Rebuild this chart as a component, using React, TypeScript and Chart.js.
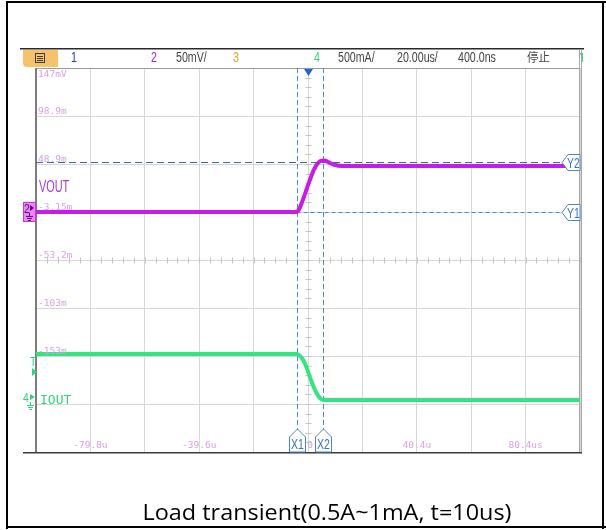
import React, { useEffect, useRef } from "react";
import { Chart, registerables } from "chart.js";

Chart.register(...registerables);

// ---- data ----
const voutTimeUs = [-100, -4.2, -3.4, -2.4, -1.0, 0.6, 2.2, 3.6, 4.7, 6.0, 7.6, 9.6, 12.5, 100];
const voutMv = [-3.15, -3.15, -1.0, 5.5, 16.5, 29.5, 41.0, 47.5, 50.0, 50.5, 48.5, 46.0, 44.8, 44.8];
const ioutTimeUs = [-100, -4.2, -3.0, -1.8, -0.4, 1.0, 2.6, 4.0, 5.0, 5.8, 100];
const ioutMa = [480, 480, 462, 420, 330, 215, 105, 35, 8, 1, 1];
const voltTickLabels = ["147mV", "98.9m", "48.9m", "-3.15m", "-53.2m", "-103m", "-153m"];
const voltTickDivs = [4, 3, 2, 1, 0, -1, -2];
const timeTickLabels = ["-79.8u", "-39.6u", "0", "40.4u", "80.4us"];
const timeTickUs = [-80, -40, 0, 40, 80];
const cursorXUs = [-4.2, 5.5];
const cursorXNames = ["X1", "X2"];
const cursorYMv = [-3.15, 48.9];
const cursorYNames = ["Y1", "Y2"];
const headerTexts = ["1", "2", "50mV/", "3", "4", "500mA/", "20.00us/", "400.0ns", "停止"];
const caption = "Load transient(0.5A~1mA, t=10us)";

const SANS = '"Liberation Sans", Arial, sans-serif';
const MONO = '"DejaVu Sans Mono", "Liberation Mono", monospace';

function narrowText(
  ctx: CanvasRenderingContext2D,
  text: string,
  x: number,
  y: number,
  font: string,
  sx: number,
  align: CanvasTextAlign = "left",
  baseline: CanvasTextBaseline = "alphabetic"
) {
  ctx.save();
  ctx.font = font;
  ctx.textAlign = align;
  ctx.textBaseline = baseline;
  ctx.translate(x, y);
  ctx.scale(sx, 1);
  ctx.fillText(text, 0, 0);
  ctx.restore();
}

function ground(ctx: CanvasRenderingContext2D, x: number, y: number, color: string) {
  ctx.save();
  ctx.strokeStyle = color;
  ctx.lineWidth = 1;
  ctx.beginPath();
  ctx.moveTo(x + 0.5, y);
  ctx.lineTo(x + 0.5, y + 3);
  ctx.moveTo(x - 3, y + 3.5);
  ctx.lineTo(x + 4, y + 3.5);
  ctx.moveTo(x - 2, y + 5.5);
  ctx.lineTo(x + 3, y + 5.5);
  ctx.moveTo(x - 1, y + 7.5);
  ctx.lineTo(x + 2, y + 7.5);
  ctx.stroke();
  ctx.restore();
}

const scopePlugin = {
  id: "scope",
  beforeDraw(chart: any) {
    const ctx: CanvasRenderingContext2D = chart.ctx;
    const W = chart.width;
    const H = chart.height;
    ctx.save();
    ctx.fillStyle = "#ffffff";
    ctx.fillRect(0, 0, W, H);
    // outer frame
    ctx.fillStyle = "#000000";
    ctx.fillRect(6, 1, 2, H - 2);
    ctx.fillRect(6, 1, W - 6, 2);
    ctx.fillRect(602, 1, 2, H - 2);
    ctx.fillRect(6, 526, W - 6, 2);

    // header line
    ctx.fillStyle = "#2a2a2a";
    ctx.fillRect(20, 48, 564, 1.5);
    // menu button
    ctx.fillStyle = "#f6c36a";
    ctx.beginPath();
    ctx.moveTo(23, 50);
    ctx.lineTo(58, 50);
    ctx.lineTo(58, 67);
    ctx.lineTo(27, 67);
    ctx.quadraticCurveTo(23, 67, 23, 63);
    ctx.closePath();
    ctx.fill();
    ctx.strokeStyle = "#3a3a3a";
    ctx.lineWidth = 1;
    ctx.strokeRect(35.5, 53.5, 9, 9);
    ctx.beginPath();
    ctx.moveTo(37, 56.5); ctx.lineTo(43, 56.5);
    ctx.moveTo(37, 58.5); ctx.lineTo(43, 58.5);
    ctx.moveTo(37, 60.5); ctx.lineTo(43, 60.5);
    ctx.stroke();

    // header texts
    const hx = [71, 151, 176, 233, 314, 338, 397, 458, 527];
    const hc = ["#2233c8", "#a426d6", "#444444", "#e6a21e", "#2fd572", "#444444", "#444444", "#444444", "#444444"];
    headerTexts.forEach((t, i) => {
      ctx.fillStyle = hc[i];
      if (i === 8) {
        narrowText(ctx, t, hx[i], 62, '12px "Noto Sans CJK SC", sans-serif', 0.95);
      } else {
        narrowText(ctx, t, hx[i], 62, `14px ${SANS}`, 0.76);
      }
    });
    ctx.save();
    ctx.beginPath();
    ctx.rect(575, 50, 8, 17);
    ctx.clip();
    ctx.fillStyle = "#2fd572";
    narrowText(ctx, "T", 579, 62, `bold 13px ${SANS}`, 0.8);
    ctx.restore();
    ctx.restore();
  },
  beforeDatasetsDraw(chart: any) {
    const ctx: CanvasRenderingContext2D = chart.ctx;
    const a = chart.chartArea;
    const xs = chart.scales.x;
    const yd = chart.scales.yDiv;
    const yV = chart.scales.yV;
    ctx.save();
    // center minor ticks
    const cx = Math.round(xs.getPixelForValue(0)) + 0.5;
    const cy = Math.round(yd.getPixelForValue(0)) + 0.5;
    ctx.strokeStyle = "#c4c4c4";
    ctx.lineWidth = 1;
    ctx.beginPath();
    for (let v = -4; v <= 4.001; v += 0.2) {
      const y = Math.round(yd.getPixelForValue(v)) + 0.5;
      ctx.moveTo(cx - 3, y);
      ctx.lineTo(cx + 3, y);
    }
    for (let t = -100; t <= 100.001; t += 4) {
      const x = Math.round(xs.getPixelForValue(t)) + 0.5;
      ctx.moveTo(x, cy - 3);
      ctx.lineTo(x, cy + 3);
    }
    ctx.stroke();

    // borders
    ctx.fillStyle = "#9a9a9a";
    ctx.fillRect(a.left, a.top, a.right - a.left, 1);
    ctx.fillStyle = "#7c7c7c";
    ctx.fillRect(a.left - 1, a.top, 2, a.bottom - a.top);
    ctx.fillStyle = "#a8a8a8";
    ctx.fillRect(a.right - 1, 50, 1, a.bottom - 50);
    ctx.fillRect(a.right + 1, 50, 1, a.bottom - 50);
    ctx.fillStyle = "#3a3a3a";
    ctx.fillRect(23, a.bottom, a.right + 2 - 23, 1.5);

    // cursors
    ctx.lineWidth = 1;
    ctx.strokeStyle = "#3f8ae6";
    ctx.setLineDash([5, 3]);
    cursorXUs.forEach((t) => {
      const x = Math.round(xs.getPixelForValue(t)) + 0.5;
      ctx.beginPath();
      ctx.moveTo(x, a.top);
      ctx.lineTo(x, a.bottom - 22);
      ctx.stroke();
    });
    const y1 = Math.round(yV.getPixelForValue(cursorYMv[0])) + 0.5;
    ctx.setLineDash([4, 3]);
    ctx.beginPath();
    ctx.moveTo(xs.getPixelForValue(cursorXUs[0]), y1);
    ctx.lineTo(a.right - 18, y1);
    ctx.stroke();
    const y2 = Math.round(yV.getPixelForValue(cursorYMv[1])) + 0.5;
    ctx.strokeStyle = "#3a6aa8";
    ctx.setLineDash([7, 4]);
    ctx.beginPath();
    ctx.moveTo(a.left, y2);
    ctx.lineTo(a.right - 18, y2);
    ctx.stroke();
    ctx.restore();
  },
  afterDatasetsDraw(chart: any) {
    const ctx: CanvasRenderingContext2D = chart.ctx;
    const a = chart.chartArea;
    const xs = chart.scales.x;
    const yd = chart.scales.yDiv;
    const yV = chart.scales.yV;
    ctx.save();

    // voltage tick labels
    ctx.fillStyle = "#dba0e6";
    ctx.font = `9.5px ${MONO}`;
    ctx.textAlign = "left";
    voltTickLabels.forEach((s, i) => {
      const y = yd.getPixelForValue(voltTickDivs[i]);
      if (i === 0) {
        ctx.textBaseline = "top";
        ctx.fillText(s, a.left + 2, y + 2);
      } else {
        ctx.textBaseline = "bottom";
        ctx.fillText(s, a.left + 2, y);
      }
    });
    // time tick labels
    ctx.textAlign = "center";
    ctx.textBaseline = "bottom";
    timeTickLabels.forEach((s, i) => {
      ctx.fillText(s, xs.getPixelForValue(timeTickUs[i]) + (i === 2 ? 2 : 0), a.bottom - 2);
    });

    // cursor X labels
    ctx.setLineDash([]);
    cursorXUs.forEach((t, i) => {
      const cx = Math.round(xs.getPixelForValue(t)) + 0.5;
      const b = a.bottom;
      ctx.beginPath();
      ctx.moveTo(cx - 8, b);
      ctx.lineTo(cx - 8, b - 15);
      ctx.lineTo(cx, b - 23);
      ctx.lineTo(cx + 8, b - 15);
      ctx.lineTo(cx + 8, b);
      ctx.closePath();
      ctx.fillStyle = "#ffffff";
      ctx.fill();
      ctx.strokeStyle = "#4a84d0";
      ctx.lineWidth = 1;
      ctx.stroke();
      ctx.fillStyle = "#3a72c4";
      narrowText(ctx, cursorXNames[i], cx, b - 3, `14px ${SANS}`, 0.75, "center");
    });
    // cursor Y labels
    cursorYMv.forEach((v, i) => {
      const cy = Math.round(yV.getPixelForValue(v)) + 0.5;
      const tip = a.right - 18;
      ctx.beginPath();
      ctx.moveTo(tip, cy);
      ctx.lineTo(tip + 6, cy - 8);
      ctx.lineTo(a.right, cy - 8);
      ctx.lineTo(a.right, cy + 8);
      ctx.lineTo(tip + 6, cy + 8);
      ctx.closePath();
      ctx.fillStyle = "#ffffff";
      ctx.fill();
      ctx.strokeStyle = "#4a84d0";
      ctx.lineWidth = 1;
      ctx.stroke();
      ctx.fillStyle = "#3a72c4";
      narrowText(ctx, cursorYNames[i], tip + 5, cy + 5, `14px ${SANS}`, 0.75);
    });

    // trigger marker
    const tx = Math.round(xs.getPixelForValue(0)) + 0.5;
    ctx.fillStyle = "#1b66d6";
    ctx.beginPath();
    ctx.moveTo(tx - 4.5, a.top + 1);
    ctx.lineTo(tx + 4.5, a.top + 1);
    ctx.lineTo(tx, a.top + 8);
    ctx.closePath();
    ctx.fill();

    // channel labels
    ctx.fillStyle = "#a23ccc";
    narrowText(ctx, "VOUT", a.left + 3, 192, `16px ${SANS}`, 0.68);
    ctx.fillStyle = "#30d47a";
    narrowText(ctx, "IOUT", a.left + 4, 404, `13px ${MONO}`, 1);

    // ch2 ground marker
    const g2 = yV.getPixelForValue(cursorYMv[0]);
    ctx.fillStyle = "#ec84f7";
    ctx.fillRect(23, g2 - 10, 13, 20);
    ctx.strokeStyle = "#c03ad4";
    ctx.lineWidth = 1;
    ctx.strokeRect(23.5, g2 - 9.5, 12, 19);
    ctx.fillStyle = "#5a1070";
    narrowText(ctx, "2", 24, g2 + 1, `13px ${SANS}`, 0.8);
    ctx.beginPath();
    ctx.moveTo(30, g2 - 7);
    ctx.lineTo(34, g2 - 4);
    ctx.lineTo(30, g2 - 1);
    ctx.closePath();
    ctx.fill();
    ground(ctx, 29, g2 + 1, "#5a1070");

    // ch4 ground marker
    const g4 = 400;
    ctx.fillStyle = "#30d47a";
    narrowText(ctx, "4", 23, g4 + 2, `13px ${SANS}`, 0.8);
    ctx.beginPath();
    ctx.moveTo(30, g4 - 6);
    ctx.lineTo(35, g4 - 3);
    ctx.lineTo(30, g4);
    ctx.closePath();
    ctx.fill();
    ground(ctx, 30, g4 + 2, "#30d47a");

    // trigger level marker
    narrowText(ctx, "T", 30, 366, `13px ${SANS}`, 0.8);
    ctx.beginPath();
    ctx.moveTo(32, 368);
    ctx.lineTo(37, 372);
    ctx.lineTo(32, 376);
    ctx.closePath();
    ctx.fill();

    // caption
    ctx.fillStyle = "#000000";
    const capFont = '21px "Open Sans", "Noto Sans", sans-serif';
    ctx.font = capFont;
    const w = ctx.measureText(caption).width;
    narrowText(ctx, caption, 327, 520, capFont, 369 / w, "center");
    ctx.restore();
  },
};

export default function App() {
  const ref = useRef<HTMLCanvasElement | null>(null);
  useEffect(() => {
    if (!ref.current) return;
    const gridOpts = { color: "#d7d7d7", lineWidth: 1, drawTicks: false };
    const chart = new Chart(ref.current, {
      type: "line",
      data: {
        datasets: [
          {
            label: "IOUT",
            data: ioutTimeUs.map((t, i) => ({ x: t, y: ioutMa[i] })),
            yAxisID: "yI",
            borderColor: "#35e37f",
            borderWidth: 4,
            pointRadius: 0,
            cubicInterpolationMode: "monotone",
          },
          {
            label: "VOUT",
            data: voutTimeUs.map((t, i) => ({ x: t, y: voutMv[i] })),
            yAxisID: "yV",
            borderColor: "#c81be6",
            borderWidth: 4,
            pointRadius: 0,
            cubicInterpolationMode: "monotone",
          },
        ],
      },
      options: {
        responsive: false,
        maintainAspectRatio: false,
        devicePixelRatio: 1,
        animation: false,
        events: [],
        layout: { padding: { left: 36, right: 26, top: 68, bottom: 78 } },
        plugins: { legend: { display: false }, tooltip: { enabled: false } },
        scales: {
          x: {
            type: "linear",
            min: -100,
            max: 100,
            ticks: { display: false, stepSize: 20 },
            grid: gridOpts,
            border: { display: false },
          },
          yDiv: {
            type: "linear",
            position: "left",
            min: -4,
            max: 4,
            ticks: { display: false, stepSize: 1 },
            grid: gridOpts,
            border: { display: false },
          },
          yV: { type: "linear", display: false, min: -253.2, max: 146.8 },
          yI: { type: "linear", display: false, min: -540, max: 3460 },
        },
      },
      plugins: [scopePlugin],
    } as any);
    return () => chart.destroy();
  }, []);
  return (
    <div style={{ position: "absolute", left: 0, top: 0, width: 606, height: 530, background: "#fff" }}>
      <canvas ref={ref} width={606} height={530} style={{ width: 606, height: 530, display: "block" }} />
    </div>
  );
}
